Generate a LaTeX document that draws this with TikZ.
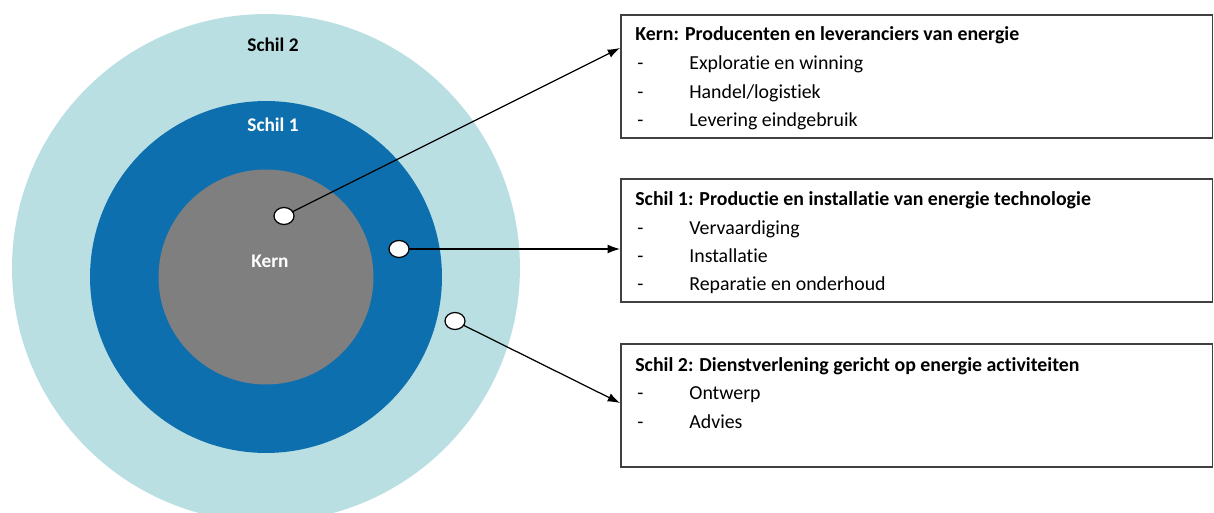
\documentclass[tikz,border=0pt]{standalone}
\usepackage{fontspec}
\setmainfont{Carlito}[Ligatures=NoCommon]
\usetikzlibrary{calc,shapes.geometric,arrows.meta}
\definecolor{schiltwo}{HTML}{B9DFE3}
\definecolor{schilone}{HTML}{0D6FAE}
\definecolor{kerngray}{HTML}{7F7F7F}
\definecolor{frame}{HTML}{404040}
\tikzset{
  ring/.style={circle, inner sep=0pt, draw=none},
  dot/.style={ellipse, draw=black, fill=white, line width=0.7pt, minimum width=0.40cm, minimum height=0.34cm, inner sep=0pt},
  infobox/.style={draw=frame, line width=0.9pt, anchor=north west, minimum width=11.84cm, minimum height=2.46cm, inner sep=0pt},
  ttl/.style={anchor=west, font=\bfseries\fontsize{11.3}{13}\selectfont, inner sep=0pt, text height=9.3pt, text depth=1.2pt},
  itm/.style={anchor=west, font=\fontsize{11.3}{13}\selectfont, inner sep=0pt, text height=9.3pt, text depth=1.2pt},
  lab/.style={font=\bfseries\fontsize{11}{13}\selectfont, inner sep=0pt},
  arr/.style={-{Latex[length=7pt,width=5pt]}, line width=0.7pt, shorten <=-0.5pt}
}

\begin{document}
\begin{tikzpicture}[x=0.02cm, y=-0.02cm]
  \useasboundingbox (0,0) rectangle (1214,513);
  \clip (0,0) rectangle (1214,513);

  % rings
  \node[ring, fill=schiltwo, minimum size=10.16cm] (s2) at (266,268) {};
  \node[ring, fill=schilone, minimum size=7.04cm] (s1) at (266,277) {};
  \node[ring, fill=kerngray, minimum size=4.30cm] (kern) at (266,277) {};

  \node[lab, text=black] (s2lab) at (273,45) {Schil 2};
  \node[lab, text=white] (s1lab) at (273,125) {Schil 1};
  \node[lab, text=white] (kernlab) at (270,261) {Kern};

  % boxes
  \node[infobox] (kbox) at (620,14) {};
  \node[infobox] (s1box) at (620,178) {};
  \node[infobox] (s2box) at (620,343) {};

  \node[ttl] (kt) at (635,33) {Kern: Producenten en leveranciers van energie};
  \node[itm] (kd1) at (637,62) {-};
  \node[itm] (kd2) at (637,91) {-};
  \node[itm] (kd3) at (637,119) {-};
  \node[itm] (ki1) at (689,62) {Exploratie en winning};
  \node[itm] (ki2) at (689,91) {Handel/logistiek};
  \node[itm] (ki3) at (689,119) {Levering eindgebruik};

  \node[ttl] (s1t) at (635,198) {Schil 1: Productie en installatie van energie technologie};
  \node[itm] (s1d1) at (637,227) {-};
  \node[itm] (s1d2) at (637,255) {-};
  \node[itm] (s1d3) at (637,283) {-};
  \node[itm] (s1i1) at (689,227) {Vervaardiging};
  \node[itm] (s1i2) at (689,255) {Installatie};
  \node[itm] (s1i3) at (689,283) {Reparatie en onderhoud};

  \node[ttl] (s2t) at (635,364) {Schil 2: Dienstverlening gericht op energie activiteiten};
  \node[itm] (s2d1) at (637,392) {-};
  \node[itm] (s2d2) at (637,421) {-};
  \node[itm] (s2i1) at (689,392) {Ontwerp};
  \node[itm] (s2i2) at (689,421) {Advies};

  % markers and arrows
  \node[dot] (dk) at (284,216) {};
  \node[dot] (ds1) at (399,249) {};
  \node[dot] (ds2) at (455,321) {};

  \coordinate (kin) at (kbox.west |- 0,48);
  \coordinate (s1in) at (s1box.west |- 0,249);
  \coordinate (s2in) at (s2box.west |- 0,403);

  \draw[arr] (dk) -- (kin);
  \draw[arr] (ds1) -- (s1in);
  \draw[arr] (ds2) -- (s2in);
\end{tikzpicture}
\end{document}
